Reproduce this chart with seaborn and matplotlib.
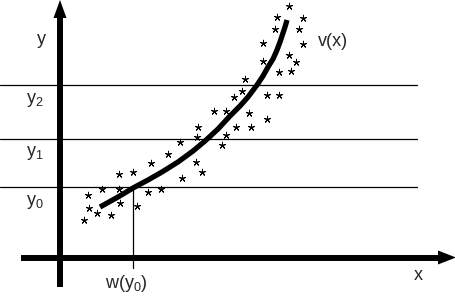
import numpy as np
import pandas as pd
import matplotlib
matplotlib.use('Agg')
import matplotlib.pyplot as plt
import seaborn as sns

# picture works in pixel units (x right, y down)
star_x = [88, 102, 119, 119, 133, 151, 168, 196, 202, 182, 148, 161, 120, 137, 89, 97, 84, 111,
          180, 197, 198, 214, 226, 226, 222,
          289, 277, 303, 275, 299, 263, 303, 263, 289, 296, 279, 291, 245, 242, 234, 267, 279,
          249, 267, 236, 251]
star_y = [195, 189, 189, 174, 172, 163, 154, 162, 172, 178, 192, 189, 203, 206, 208, 213, 220, 215,
          142, 137, 127, 111, 111, 135, 145,
          6, 17, 18, 29, 29, 43, 44, 61, 55, 62, 72, 71, 79, 91, 97, 95, 95,
          113, 119, 127, 127]

curve_x = [100, 118, 133, 148, 162, 178, 193, 205, 218, 230, 240, 248, 257, 263, 268, 273, 277, 280, 283, 285, 287]
curve_y = [207, 197, 188, 180, 172, 162, 151, 141, 129, 116, 106, 97, 85, 76, 67, 59, 50, 42, 33, 27, 20]

level_y = [85, 139, 187]
level_labels = ['$\\mathregular{y_2}$', '$\\mathregular{y_1}$', '$\\mathregular{y_0}$']
w_y0 = 133

sns.set_theme(style='white')
plt.rcParams['font.family'] = ['Liberation Sans', 'DejaVu Sans']

fig = plt.figure(figsize=(4.56, 2.98), dpi=100)
ax = fig.add_axes([0, 0, 1, 1])
ax.axis('off')

# horizontal level lines
for yy in level_y:
    ax.plot([0, 417], [yy, yy], color='black', lw=0.9)
# w(y0) drop line
ax.plot([w_y0, w_y0], [level_y[2], 268], color='black', lw=0.9)

# axes with arrows
ax.plot([60, 60], [287, 14], color='black', lw=4.3, solid_capstyle='butt')
ax.fill([53.5, 66.5, 60], [18, 18, 0], color='black', lw=0)
ax.plot([21, 442], [258, 258], color='black', lw=4.3, solid_capstyle='butt')
ax.fill([438, 438, 456], [250.5, 264.5, 257.5], color='black', lw=0)

df_stars = pd.DataFrame({'x': star_x, 'y': star_y})
sns.scatterplot(data=df_stars, x='x', y='y', marker=(5, 2, 0), s=22, color='black',
                linewidth=0.7, ax=ax, legend=False)

df_curve = pd.DataFrame({'x': curve_x, 'y': curve_y})
sns.lineplot(data=df_curve, x='x', y='y', sort=False, color='black', lw=3.8, ax=ax,
             solid_capstyle='butt')
ax.set_xlim(0, 456)
ax.set_ylim(298, 0)

fs = 13
ax.text(41, 40, 'y', fontsize=fs, ha='center', va='center')
ax.text(26, 100, level_labels[0], fontsize=fs, ha='left', va='center')
ax.text(26, 153, level_labels[1], fontsize=fs, ha='left', va='center')
ax.text(26, 202, level_labels[2], fontsize=fs, ha='left', va='center')
ax.text(318, 42, 'v(x)', fontsize=fs, ha='left', va='center')
ax.text(418, 276, 'x', fontsize=fs, ha='center', va='center')
ax.text(105, 283, 'w($\\mathregular{y_0}$)', fontsize=fs, ha='left', va='center')

fig.savefig('out.png', dpi=100)
